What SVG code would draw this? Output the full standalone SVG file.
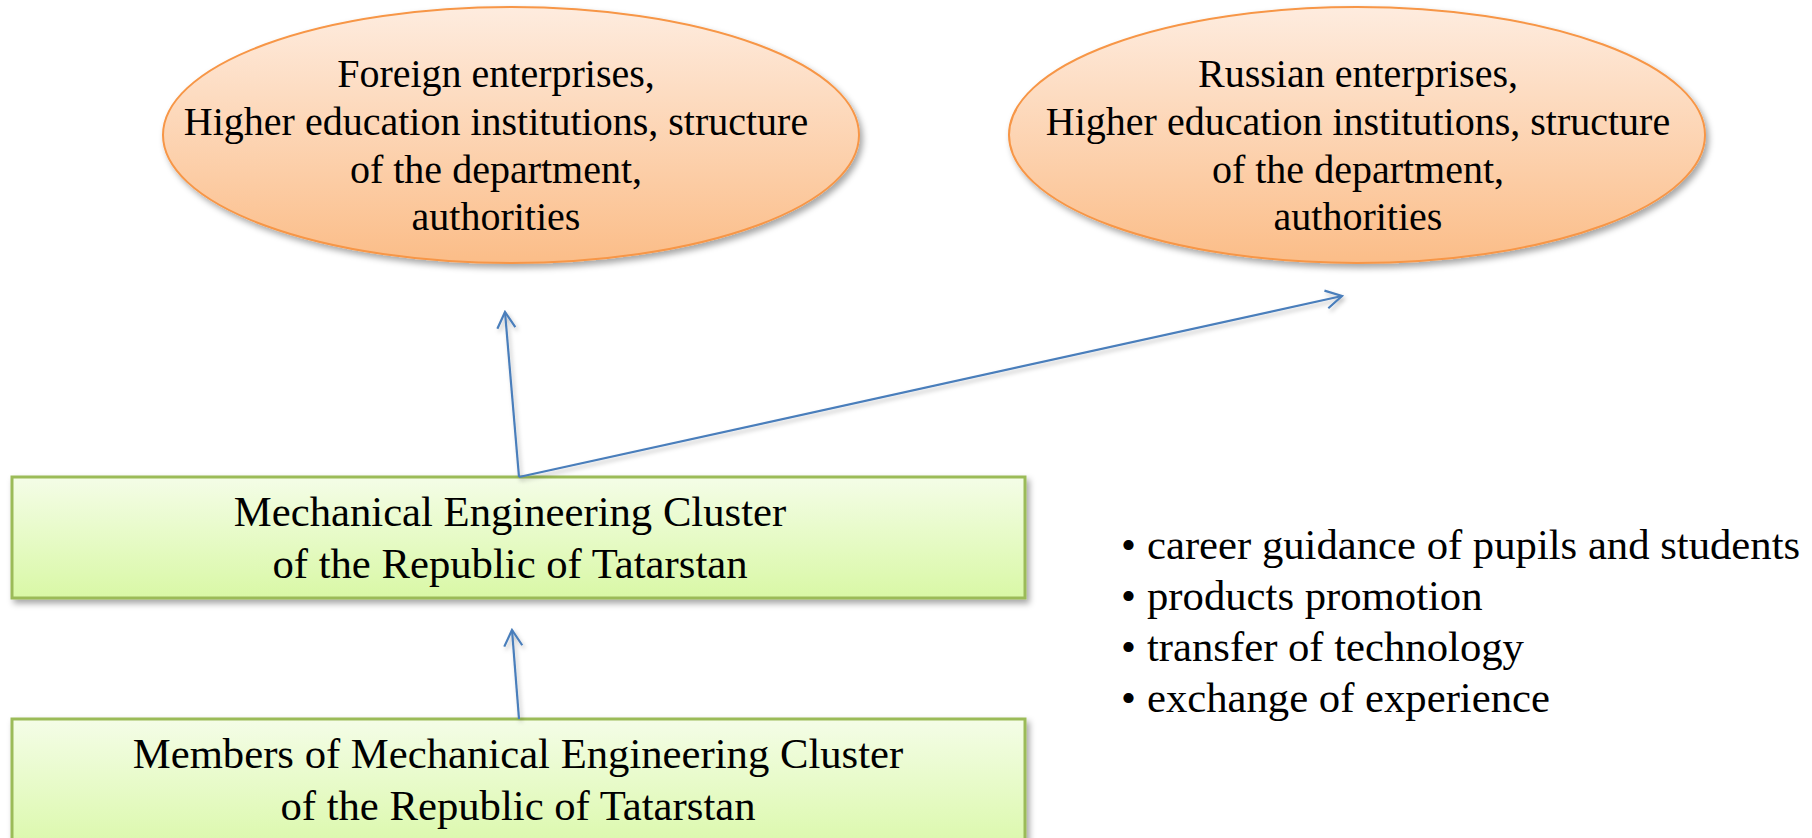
<svg xmlns="http://www.w3.org/2000/svg" width="1812" height="838" viewBox="0 0 1812 838">
  <defs>
    <linearGradient id="gOrange" x1="0" y1="0" x2="0" y2="1">
      <stop offset="0" stop-color="#FEECDF"/>
      <stop offset="1" stop-color="#FBBD88"/>
    </linearGradient>
    <linearGradient id="gGreen" x1="0" y1="0" x2="0" y2="1">
      <stop offset="0" stop-color="#F4FDE7"/>
      <stop offset="1" stop-color="#D9F8A6"/>
    </linearGradient>
    <filter id="shadow" x="-10%" y="-10%" width="125%" height="130%">
      <feDropShadow dx="3" dy="4" stdDeviation="3" flood-color="#000" flood-opacity="0.35"/>
    </filter>
    <filter id="lshadow" filterUnits="userSpaceOnUse" x="0" y="0" width="1812" height="838">
      <feDropShadow dx="2" dy="3" stdDeviation="2" flood-color="#000" flood-opacity="0.25"/>
    </filter>
    <marker id="arrow" viewBox="0 0 20 22" refX="18" refY="11" markerWidth="20" markerHeight="22" markerUnits="userSpaceOnUse" orient="auto">
      <path d="M2,2 L18,11 L2,20" fill="none" stroke="#4A7EBB" stroke-width="2.2"/>
    </marker>
  </defs>
  <style>
    .ell { fill: url(#gOrange); stroke: #F79646; stroke-width: 2; filter: url(#shadow); }
    .box { fill: url(#gGreen); stroke: #9BBB59; stroke-width: 3; filter: url(#shadow); }
    .t { font-family: "Liberation Serif", "Times New Roman", serif; fill: #000; }
    .te { font-size: 40px; text-anchor: middle; }
    .tb { font-size: 42.7px; text-anchor: middle; }
    .tl { font-size: 42.7px; }
    .conn { stroke: #4A7EBB; stroke-width: 2.2; fill: none; marker-end: url(#arrow); filter: url(#lshadow); }
  </style>
  <rect width="1812" height="838" fill="#FFFFFF"/>

  <g id="foreign">
    <ellipse class="ell" cx="511" cy="135" rx="348" ry="128"/>
    <text class="t te" x="496" y="87">Foreign enterprises,</text>
    <text class="t te" x="496" y="135">Higher education institutions, structure</text>
    <text class="t te" x="496" y="183">of the department,</text>
    <text class="t te" x="496" y="230">authorities</text>
  </g>

  <g id="russian">
    <ellipse class="ell" cx="1357" cy="135" rx="348" ry="128"/>
    <text class="t te" x="1358" y="87">Russian enterprises,</text>
    <text class="t te" x="1358" y="135">Higher education institutions, structure</text>
    <text class="t te" x="1358" y="183">of the department,</text>
    <text class="t te" x="1358" y="230">authorities</text>
  </g>

  <g id="cluster">
    <rect class="box" x="12" y="477" width="1013" height="121"/>
    <text class="t tb" x="510" y="526">Mechanical Engineering Cluster</text>
    <text class="t tb" x="510" y="578">of the Republic of Tatarstan</text>
  </g>

  <g id="members">
    <rect class="box" x="12" y="719" width="1013" height="140"/>
    <text class="t tb" x="518" y="768">Members of Mechanical Engineering Cluster</text>
    <text class="t tb" x="518" y="820">of the Republic of Tatarstan</text>
  </g>

  <g id="activities">
    <text class="t tl" x="1121" y="559">•</text>
    <text class="t tl" x="1147" y="559">career guidance of pupils and students</text>
    <text class="t tl" x="1121" y="610">•</text>
    <text class="t tl" x="1147" y="610">products promotion</text>
    <text class="t tl" x="1121" y="661">•</text>
    <text class="t tl" x="1147" y="661">transfer of technology</text>
    <text class="t tl" x="1121" y="712">•</text>
    <text class="t tl" x="1147" y="712">exchange of experience</text>
  </g>

  <g id="connectors">
    <line class="conn" x1="519" y1="477" x2="505" y2="312"/>
    <line class="conn" x1="519" y1="477" x2="1342" y2="296"/>
    <line class="conn" x1="519" y1="719" x2="512" y2="630"/>
  </g>
</svg>
